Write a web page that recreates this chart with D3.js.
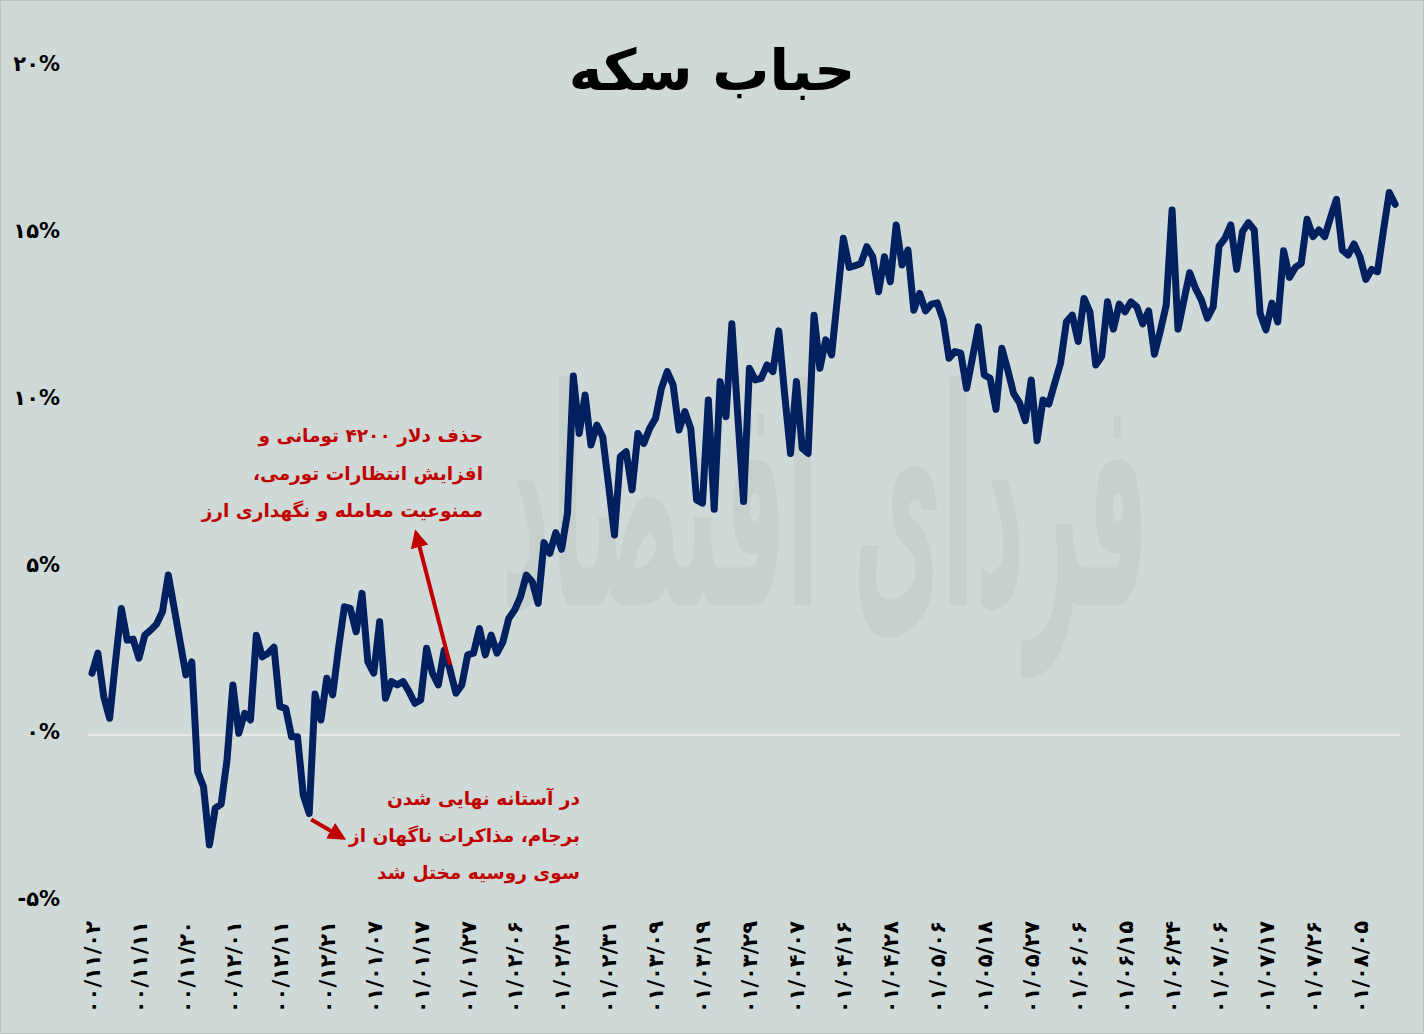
<!DOCTYPE html>
<html><head><meta charset="utf-8">
<script src="https://cdn.jsdelivr.net/npm/d3@7"></script>
<style>
html,body{margin:0;padding:0;background:#cfd9d7;}
svg{display:block;}
</style></head>
<body>
<script>
const titleText = "حباب سکه";
const yTicks = [-5, 0, 5, 10, 15, 20];
const yTickLabels = ["-۵%", "۰%", "۵%", "۱۰%", "۱۵%", "۲۰%"];
const xTickLabels = ["۰۰/۱۱/۰۲","۰۰/۱۱/۱۱","۰۰/۱۱/۲۰","۰۰/۱۲/۰۱","۰۰/۱۲/۱۱","۰۰/۱۲/۲۱","۰۱/۰۱/۰۷","۰۱/۰۱/۱۷","۰۱/۰۱/۲۷","۰۱/۰۲/۰۶","۰۱/۰۲/۲۱","۰۱/۰۲/۳۱","۰۱/۰۳/۰۹","۰۱/۰۳/۱۹","۰۱/۰۳/۲۹","۰۱/۰۴/۰۷","۰۱/۰۴/۱۶","۰۱/۰۴/۲۸","۰۱/۰۵/۰۶","۰۱/۰۵/۱۸","۰۱/۰۵/۲۷","۰۱/۰۶/۰۶","۰۱/۰۶/۱۵","۰۱/۰۶/۲۴","۰۱/۰۷/۰۶","۰۱/۰۷/۱۷","۰۱/۰۷/۲۶","۰۱/۰۸/۰۵"];
const labelInterval = 8;
// coin bubble (%), one value per trading day
const bubble = [
1.85,2.45,1.15,0.50,2.2,3.79,2.84,2.87,2.30,2.99,
3.14,3.32,3.69,4.79,3.8,2.8,1.80,2.19,-1.10,-1.55,
-3.29,-2.19,-2.07,-0.75,1.50,0.05,0.65,0.45,2.99,2.34,
2.45,2.63,0.85,0.80,-0.05,-0.05,-1.80,-2.35,1.23,0.45,
1.70,1.20,2.6,3.84,3.79,3.09,4.24,2.19,1.85,3.39,
1.10,1.60,1.50,1.60,1.3,0.95,1.05,2.60,1.85,1.50,
2.54,1.95,1.25,1.50,2.40,2.45,3.19,2.40,2.99,2.45,
2.79,3.49,3.74,4.14,4.79,4.59,3.94,5.76,5.44,6.06,
5.56,6.64,10.75,9.03,10.18,8.68,9.28,8.93,7.5,5.99,
8.33,8.48,7.34,9.03,8.73,9.18,9.48,10.38,10.88,10.48,
9.13,9.68,9.18,7.04,6.94,10.03,6.76,10.58,9.53,12.31,
9.6,6.99,10.98,10.63,10.68,11.08,10.88,12.10,10.2,8.43,
10.58,8.58,8.43,12.57,10.98,11.83,11.38,13.1,14.87,14.00,
14.05,14.12,14.62,14.32,13.27,14.32,13.57,15.27,14.07,14.52,
12.72,13.22,12.70,12.90,12.94,12.43,11.28,11.48,11.43,10.38,
11.3,12.22,10.78,10.68,9.75,11.58,10.93,10.23,9.95,9.41,
10.63,8.81,10.03,9.91,10.53,11.13,12.37,12.57,11.78,13.07,
12.67,11.08,11.33,12.97,12.15,12.90,12.67,12.97,12.82,12.31,
12.70,11.40,12.1,12.87,15.72,12.15,13.0,13.84,13.37,13.02,
12.48,12.82,14.64,14.87,15.27,13.94,15.07,15.34,15.12,12.62,
12.13,12.93,12.37,14.50,13.70,14.00,14.12,15.44,14.92,15.12,
14.92,15.5,16.04,14.52,14.37,14.70,14.32,13.64,13.94,13.87,
15.1,16.24,15.89
];
const note1Lines = ["حذف دلار ۴۲۰۰ تومانی و", "افزایش انتظارات تورمی،", "ممنوعیت معامله و نگهداری ارز"];
const note2Lines = ["در آستانه نهایی شدن", "برجام، مذاکرات ناگهان از", "سوی روسیه مختل شد"];
const watermarkText = "فردای اقتصاد";

const W = 1424, H = 1034;
const FONT = "'DejaVu Sans', sans-serif";
const svg = d3.select("body").append("svg").attr("width", W).attr("height", H);

svg.append("rect").attr("x",0.5).attr("y",0.5).attr("width",W-1).attr("height",H-1)
  .attr("fill","#cfd9d7").attr("stroke","#b8c3c1");

const x = d3.scalePoint().domain(d3.range(bubble.length)).range([92, 92 + 5.87*(bubble.length-1)]);
const y = d3.scaleLinear().domain([-5, 20]).range([902, 67]);

// watermark (faint logo text)
svg.append("text").attr("x", 0).attr("y", 0)
  .attr("text-anchor","middle").attr("direction","rtl")
  .attr("transform","translate(825,605) scale(1,3.1)")
  .attr("font-family", FONT).attr("font-weight","bold").attr("font-size",97)
  .attr("fill","#c6d1cd").text(watermarkText);

// zero line
svg.append("line").attr("x1",88).attr("x2",1400).attr("y1",y(0)).attr("y2",y(0))
  .attr("stroke","#e6e9e8").attr("stroke-width",2);

// title
svg.append("text").attr("x",712).attr("y",90).attr("text-anchor","middle")
  .attr("font-family",FONT).attr("font-weight","bold").attr("font-size",57)
  .attr("fill","#000").text(titleText);

// y axis
const yAxis = d3.axisLeft(y).tickValues(yTicks).tickSize(0)
  .tickFormat(d => yTickLabels[yTicks.indexOf(d)]);
const gy = svg.append("g").attr("transform","translate(60,0)").call(yAxis);
gy.select(".domain").remove();
gy.selectAll("text").attr("font-family",FONT).attr("font-weight","bold")
  .attr("font-size",21).attr("fill","#000").attr("x",0).attr("dy","0.15em");

// x axis
const xTickVals = d3.range(0, bubble.length, labelInterval).slice(0, xTickLabels.length);
const xAxis = d3.axisBottom(x).tickValues(xTickVals).tickSize(0)
  .tickFormat(d => xTickLabels[d / labelInterval]);
const gx = svg.append("g").attr("transform","translate(0,921)").call(xAxis);
gx.select(".domain").remove();
gx.selectAll("text").attr("font-family",FONT).attr("font-weight","bold")
  .attr("font-size",21).attr("fill","#000")
  .attr("transform","rotate(-90)").attr("text-anchor","end")
  .attr("x",0).attr("y",0).attr("dx",0).attr("dy","0.35em");

// line
const line = d3.line().x((d,i)=>x(i)).y(d=>y(d)).curve(d3.curveLinear);
svg.append("path").datum(bubble).attr("d",line).attr("fill","none")
  .attr("stroke","#00205f").attr("stroke-width",7)
  .attr("stroke-linejoin","round").attr("stroke-linecap","round");

// annotations
const red = "#c00000";
const defs = svg.append("defs");
defs.append("marker").attr("id","ah").attr("viewBox","0 0 10 10").attr("refX",8).attr("refY",5)
  .attr("markerWidth",4.5).attr("markerHeight",4.5).attr("orient","auto")
  .append("path").attr("d","M0,0 L10,5 L0,10 z").attr("fill",red);

const n1 = svg.append("text").attr("font-family",FONT).attr("font-weight","bold")
  .attr("font-size",18.5).attr("fill",red).attr("direction","rtl").attr("text-anchor","start");
note1Lines.forEach((t,k)=> n1.append("tspan").attr("x",483).attr("y",442+37.5*k).text(t));
const n2 = svg.append("text").attr("font-family",FONT).attr("font-weight","bold")
  .attr("font-size",18.5).attr("fill",red).attr("direction","rtl").attr("text-anchor","start");
note2Lines.forEach((t,k)=> n2.append("tspan").attr("x",580).attr("y",805+37*k).text(t));

svg.append("line").attr("x1",x(61)).attr("y1",y(bubble[61])-5).attr("x2",416).attr("y2",533)
  .attr("stroke",red).attr("stroke-width",4).attr("marker-end","url(#ah)");
svg.append("line").attr("x1",x(37)+2).attr("y1",y(bubble[37])+6).attr("x2",343).attr("y2",838)
  .attr("stroke",red).attr("stroke-width",4).attr("marker-end","url(#ah)");
</script>
</body></html>
